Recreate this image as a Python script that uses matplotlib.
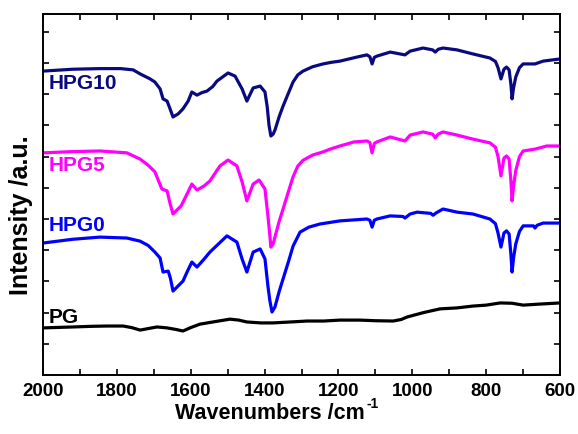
import matplotlib
matplotlib.use("Agg")
import matplotlib.pyplot as plt
from matplotlib.ticker import MultipleLocator

plt.rcParams['font.family'] = ['Liberation Sans', 'DejaVu Sans']
plt.rcParams['font.weight'] = 'bold'

# FTIR spectra (wavenumber in cm^-1, offset intensity in a.u.)
hpg10_wn = [2000, 1920, 1846, 1790, 1756, 1737, 1710, 1697, 1683, 1675, 1664, 1656, 1648,
            1634, 1621, 1607, 1597, 1583, 1570, 1556, 1540, 1529, 1499, 1480, 1461, 1448,
            1431, 1412, 1399, 1393, 1388, 1383, 1377, 1372, 1360, 1350, 1335, 1323, 1310,
            1296, 1270, 1242, 1220, 1196, 1150, 1123, 1115, 1109, 1103, 1096, 1060, 1020,
            1006, 971, 945, 938, 930, 917, 879, 836, 790, 775, 768, 760, 752, 745, 738,
            733, 730, 726, 720, 710, 700, 668, 646, 600]
hpg10_y = [9.74, 9.80, 9.82, 9.82, 9.78, 9.65, 9.49, 9.39, 9.17, 8.85, 8.78, 8.53, 8.27,
           8.37, 8.53, 8.78, 9.07, 8.97, 9.05, 9.10, 9.25, 9.42, 9.68, 9.58, 9.17, 8.78,
           9.20, 9.26, 9.07, 8.60, 8.00, 7.66, 7.72, 7.85, 8.30, 8.62, 9.05, 9.39, 9.62,
           9.74, 9.88, 9.97, 10.02, 10.06, 10.19, 10.26, 10.20, 9.97, 10.18, 10.22, 10.35,
           10.26, 10.38, 10.48, 10.42, 10.35, 10.44, 10.48, 10.42, 10.29, 10.16, 10.05,
           9.85, 9.49, 9.80, 9.87, 9.78, 9.30, 8.85, 9.20, 9.55, 9.85, 9.97, 9.97, 10.06,
           10.13]

hpg5_wn = [2000, 1920, 1846, 1773, 1737, 1715, 1697, 1678, 1664, 1656, 1648, 1626, 1610,
           1597, 1583, 1565, 1548, 1521, 1499, 1475, 1461, 1448, 1431, 1415, 1399, 1391,
           1386, 1383, 1377, 1372, 1360, 1350, 1335, 1323, 1310, 1296, 1270, 1242, 1220,
           1196, 1158, 1123, 1115, 1109, 1103, 1096, 1060, 1020, 1006, 971, 945, 938, 930,
           917, 879, 836, 790, 775, 768, 760, 752, 745, 738, 733, 730, 726, 720, 710, 700,
           668, 636, 600]
hpg5_y = [7.12, 7.16, 7.18, 7.12, 6.92, 6.72, 6.51, 5.96, 5.90, 5.50, 5.16, 5.42, 5.80,
          6.12, 5.93, 6.05, 6.22, 6.70, 6.89, 6.70, 6.19, 5.58, 6.12, 6.25, 5.96, 5.10,
          4.50, 4.10, 4.20, 4.42, 4.95, 5.32, 5.90, 6.35, 6.70, 6.88, 7.05, 7.15, 7.25,
          7.34, 7.47, 7.50, 7.45, 7.12, 7.42, 7.47, 7.63, 7.50, 7.69, 7.79, 7.72, 7.60,
          7.72, 7.79, 7.69, 7.56, 7.44, 7.30, 7.00, 6.38, 6.95, 7.02, 6.92, 6.20, 5.58,
          6.05, 6.55, 7.00, 7.18, 7.24, 7.34, 7.34]

hpg0_wn = [2000, 1920, 1846, 1773, 1737, 1715, 1697, 1683, 1675, 1661, 1655, 1648, 1621,
           1610, 1597, 1583, 1565, 1548, 1502, 1475, 1461, 1448, 1431, 1412, 1399, 1391,
           1386, 1380, 1372, 1360, 1350, 1335, 1323, 1304, 1280, 1250, 1196, 1123, 1115,
           1109, 1103, 1096, 1060, 1025, 1020, 1006, 987, 950, 944, 935, 917, 879, 836,
           790, 775, 768, 760, 752, 745, 738, 733, 730, 726, 720, 710, 700, 672, 668, 662,
           646, 600]
hpg0_y = [4.23, 4.35, 4.42, 4.39, 4.29, 4.15, 3.94, 3.75, 3.30, 3.33, 3.10, 2.69, 3.01,
          3.30, 3.62, 3.46, 3.70, 3.94, 4.46, 4.26, 3.72, 3.30, 3.94, 4.04, 3.72, 2.85,
          2.40, 2.02, 2.18, 2.70, 3.08, 3.65, 4.13, 4.58, 4.74, 4.84, 4.94, 5.00, 4.96,
          4.74, 4.96, 5.00, 5.10, 5.08, 5.03, 5.16, 5.22, 5.18, 5.12, 5.20, 5.32, 5.22,
          5.16, 5.00, 4.85, 4.55, 4.10, 4.55, 4.62, 4.52, 3.85, 3.30, 3.75, 4.20, 4.60,
          4.78, 4.78, 4.71, 4.80, 4.87, 4.87]

pg_wn = [2000, 1919, 1870, 1827, 1783, 1760, 1737, 1710, 1691, 1664, 1640, 1621, 1600,
         1575, 1540, 1494, 1470, 1448, 1410, 1377, 1330, 1285, 1240, 1196, 1142, 1100,
         1052, 1030, 1014, 970, 925, 880, 836, 800, 762, 730, 700, 660, 600]
pg_y = [1.51, 1.54, 1.56, 1.57, 1.57, 1.52, 1.44, 1.50, 1.54, 1.51, 1.46, 1.41, 1.52,
        1.63, 1.70, 1.79, 1.76, 1.70, 1.67, 1.67, 1.70, 1.73, 1.73, 1.76, 1.76, 1.74,
        1.73, 1.78, 1.86, 2.00, 2.12, 2.15, 2.21, 2.24, 2.31, 2.30, 2.24, 2.27, 2.31]

series = [
    ("HPG10", hpg10_wn, hpg10_y, "#0A0A80", 9.38),
    ("HPG5", hpg5_wn, hpg5_y, "#FF00FF", 6.74),
    ("HPG0", hpg0_wn, hpg0_y, "#0000FF", 4.81),
    ("PG", pg_wn, pg_y, "#000000", 1.86),
]

fig = plt.figure(figsize=(5.78, 4.35), dpi=100)
ax = fig.add_axes([0.0744, 0.1356, 0.8946, 0.8299])

for name, wn, y, color, label_y in series:
    ax.plot(wn, y, color=color, lw=2.3, solid_joinstyle='round', solid_capstyle='round')
    ax.text(1985, label_y, name, color=color, fontsize=15, fontweight='bold',
            ha='left', va='center')

ax.set_xlim(2000, 600)
ax.set_ylim(0, 11.57)
ax.xaxis.set_major_locator(MultipleLocator(200))
ax.xaxis.set_minor_locator(MultipleLocator(100))
ax.yaxis.set_major_locator(MultipleLocator(1))
ax.set_yticklabels([])
ax.tick_params(axis='both', which='both', direction='in', top=True, right=True,
               width=1.2, length=4)
ax.tick_params(axis='x', which='major', labelsize=13.5, pad=5)
for lab in ax.get_xticklabels():
    lab.set_fontweight('bold')
for s in ax.spines.values():
    s.set_linewidth(1.4)

# x-axis title with a small raised "-1" exponent
fig.text(0.6315, 0.036, "Wavenumbers /cm", fontsize=15.5, fontweight='bold',
         ha='right', va='baseline')
fig.text(0.6335, 0.062, "-1", fontsize=10, fontweight='bold',
         ha='left', va='baseline')

ax.set_ylabel("Intensity /a.u.", fontsize=18, fontweight='bold')
ax.yaxis.set_label_coords(-0.019, 0.446)

fig.savefig("out.png", dpi=100)
